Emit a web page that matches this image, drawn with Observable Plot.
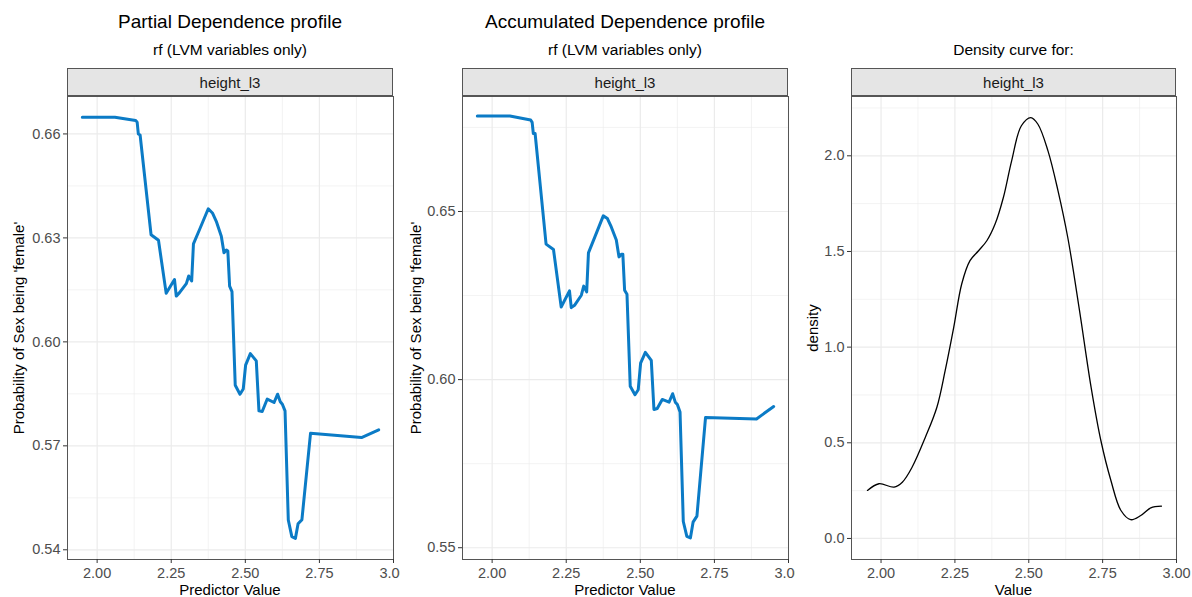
<!DOCTYPE html>
<html><head><meta charset="utf-8">
<script src="https://cdn.jsdelivr.net/npm/d3@7"></script>
<script src="https://cdn.jsdelivr.net/npm/@observablehq/plot@0.6"></script>
<style>
body{margin:0;background:#fff;font-family:"Liberation Sans",Arial,sans-serif;}
#root{position:relative;width:1192px;height:597px;overflow:hidden;background:#fff;}
.abs{position:absolute;white-space:nowrap;}
.ctr{width:400px;text-align:center;}
.title{font-size:19px;line-height:19px;color:#000;}
.sub{font-size:15.5px;line-height:16px;color:#000;}
.axt{font-size:15px;line-height:15px;color:#000;}
.rot{transform:translate(-50%,-50%) rotate(-90deg);}
.strip{box-sizing:border-box;height:28px;background:#E5E5E5;border:1px solid #555;display:flex;align-items:center;justify-content:center;font-size:15px;color:#1A1A1A;}
svg.panel{position:absolute;top:0;}
</style>
</head><body>
<div id="root"></div>
<script>
// ---- data ----
const predictorValues = [1.95, 2.06, 2.13, 2.135, 2.139, 2.145, 2.182, 2.207, 2.233, 2.261, 2.267, 2.278, 2.301, 2.309, 2.319, 2.325, 2.346, 2.375, 2.389, 2.402, 2.419, 2.428, 2.436, 2.441, 2.447, 2.455, 2.466, 2.482, 2.493, 2.501, 2.517, 2.537, 2.546, 2.557, 2.574, 2.597, 2.609, 2.618, 2.625, 2.634, 2.645, 2.657, 2.669, 2.678, 2.691, 2.720, 2.892, 2.95];
const pdProbability = [0.6648, 0.6648, 0.6639, 0.6634, 0.6600, 0.6597, 0.6309, 0.6293, 0.6140, 0.6180, 0.6132, 0.6142, 0.6168, 0.6190, 0.6176, 0.6283, 0.6325, 0.6384, 0.6372, 0.6348, 0.6305, 0.6257, 0.6265, 0.6262, 0.6161, 0.6145, 0.5875, 0.5849, 0.5864, 0.5933, 0.5966, 0.5945, 0.5801, 0.5799, 0.5835, 0.5825, 0.5849, 0.5827, 0.5820, 0.5801, 0.5486, 0.5438, 0.5433, 0.5475, 0.5487, 0.5736, 0.5724, 0.5746];
const aleProbability = [0.6784, 0.6784, 0.6772, 0.6765, 0.6732, 0.6732, 0.6403, 0.6387, 0.6216, 0.6264, 0.6214, 0.6221, 0.6251, 0.6278, 0.6261, 0.6377, 0.6423, 0.6487, 0.6479, 0.6454, 0.6415, 0.6365, 0.6373, 0.6373, 0.6266, 0.6254, 0.5980, 0.5955, 0.5970, 0.6049, 0.6081, 0.6057, 0.5911, 0.5914, 0.5941, 0.5933, 0.5958, 0.5933, 0.5926, 0.5904, 0.5578, 0.5534, 0.5529, 0.5576, 0.5594, 0.5887, 0.5883, 0.5920];
const densityValue = [1.954, 1.993, 2.044, 2.072, 2.105, 2.150, 2.189, 2.217, 2.246, 2.273, 2.301, 2.330, 2.358, 2.386, 2.414, 2.442, 2.475, 2.507, 2.531, 2.565, 2.599, 2.632, 2.671, 2.711, 2.744, 2.778, 2.812, 2.845, 2.879, 2.913, 2.949];
const densityY = [0.251, 0.286, 0.268, 0.294, 0.372, 0.529, 0.686, 0.877, 1.103, 1.330, 1.452, 1.504, 1.556, 1.643, 1.782, 1.974, 2.157, 2.200, 2.165, 2.026, 1.817, 1.573, 1.199, 0.790, 0.512, 0.303, 0.146, 0.098, 0.120, 0.160, 0.169];
const xTicks = [2, 2.25, 2.5, 2.75, 3];
const xMinorTicks = [2.125, 2.375, 2.625, 2.875];
const pdTicks = [0.54, 0.57, 0.60, 0.63, 0.66];
const pdMinorTicks = [0.555, 0.585, 0.615, 0.645];
const aleTicks = [0.55, 0.60, 0.65];
const aleMinorTicks = [0.575, 0.625, 0.675];
const densTicks = [0, 0.5, 1, 1.5, 2];
const densMinorTicks = [0.25, 0.75, 1.25, 1.75, 2.25];

const titles = ["Partial Dependence profile", "Accumulated Dependence profile"];
const subtitle = "rf (LVM variables only)";
const densTitle = "Density curve for:";
const stripLabel = "height_l3";
const yTitleProb = "Probability of Sex being 'female'";

const root = document.getElementById("root");
function addText(cls, text, left, top, extraStyle) {
  const d = document.createElement("div");
  d.className = "abs " + cls;
  d.textContent = text;
  d.style.left = left + "px";
  d.style.top = top + "px";
  if (extraStyle) Object.assign(d.style, extraStyle);
  root.appendChild(d);
  return d;
}

function panel({data, xDomain, yDomain, yMajor, yMinor, yFormat, xFormat, stroke, strokeWidth, curve, svgLeft, svgW, ml, plotW}) {
  const grid = "#EBEBEB";
  const chart = Plot.plot({
    width: svgW, height: 597,
    marginLeft: ml, marginRight: svgW - ml - plotW, marginTop: 96, marginBottom: 38,
    style: {background: "transparent", fontFamily: '"Liberation Sans", Arial, sans-serif', fontSize: "14.5px", overflow: "hidden"},
    x: {domain: xDomain},
    y: {domain: yDomain},
    marks: [
      Plot.gridX(xMinorTicks, {stroke: grid, strokeOpacity: 1, strokeWidth: 0.6}),
      Plot.gridY(yMinor, {stroke: grid, strokeOpacity: 1, strokeWidth: 0.6}),
      Plot.gridX(xTicks, {stroke: grid, strokeOpacity: 1, strokeWidth: 1.2}),
      Plot.gridY(yMajor, {stroke: grid, strokeOpacity: 1, strokeWidth: 1.2}),
      Plot.line(data, {x: "x", y: "y", stroke, strokeWidth, curve}),
      Plot.frame({stroke: "#555", strokeWidth: 1}),
      Plot.axisX(xTicks, {tickFormat: xFormat, tickSize: 4, tickPadding: 4, stroke: "#333", fill: "#4D4D4D", label: null, fontSize: 14.5}),
      Plot.axisY(yMajor, {tickFormat: yFormat, tickSize: 4, tickPadding: 3, stroke: "#333", fill: "#4D4D4D", label: null, fontSize: 14.5})
    ]
  });
  chart.classList.add("panel");
  chart.style.left = svgLeft + "px";
  root.appendChild(chart);
}

const pdData = predictorValues.map((x, i) => ({x, y: pdProbability[i]}));
const aleData = predictorValues.map((x, i) => ({x, y: aleProbability[i]}));
const densData = densityValue.map((x, i) => ({x, y: densityY[i]}));

panel({data: pdData, xDomain: [1.9, 3.0], yDomain: [0.5372, 0.6708], yMajor: pdTicks, yMinor: pdMinorTicks,
  yFormat: d3.format(".2f"), xFormat: d3.format(".2f"), stroke: "#0b7bc6", strokeWidth: 3, curve: "linear", svgLeft: 0, svgW: 400, ml: 67, plotW: 326});
panel({data: aleData, xDomain: [1.9, 3.0], yDomain: [0.5465, 0.6842], yMajor: aleTicks, yMinor: aleMinorTicks,
  yFormat: d3.format(".2f"), xFormat: d3.format(".2f"), stroke: "#0b7bc6", strokeWidth: 3, curve: "linear", svgLeft: 395, svgW: 400, ml: 67, plotW: 326});
panel({data: densData, xDomain: [1.9, 3.0], yDomain: [-0.11, 2.31], yMajor: densTicks, yMinor: densMinorTicks,
  yFormat: d3.format(".1f"), xFormat: d3.format(".2f"), stroke: "#000", strokeWidth: 1.3, curve: "catmull-rom", svgLeft: 785, svgW: 407, ml: 66, plotW: 325});

// panel centers
const centers = [230, 625, 1013.5];
addText("title ctr", titles[0], centers[0] - 200, 12);
addText("title ctr", titles[1], centers[1] - 200, 12);
addText("sub ctr", subtitle, centers[0] - 200, 42);
addText("sub ctr", subtitle, centers[1] - 200, 42);
addText("sub ctr", densTitle, centers[2] - 200, 42);

// strips
[[67, 326], [462, 326], [851, 325]].forEach(([l, w]) => {
  const s = addText("strip", stripLabel, l, 68);
  s.style.width = w + "px";
});

// axis titles
addText("axt ctr", "Predictor Value", centers[0] - 200, 582);
addText("axt ctr", "Predictor Value", centers[1] - 200, 582);
addText("axt ctr", "Value", centers[2] - 200, 582);
addText("axt rot", yTitleProb, 18, 327.5);
addText("axt rot", yTitleProb, 415, 327.5);
addText("axt rot", "density", 812, 327.5);
</script>
</body></html>
